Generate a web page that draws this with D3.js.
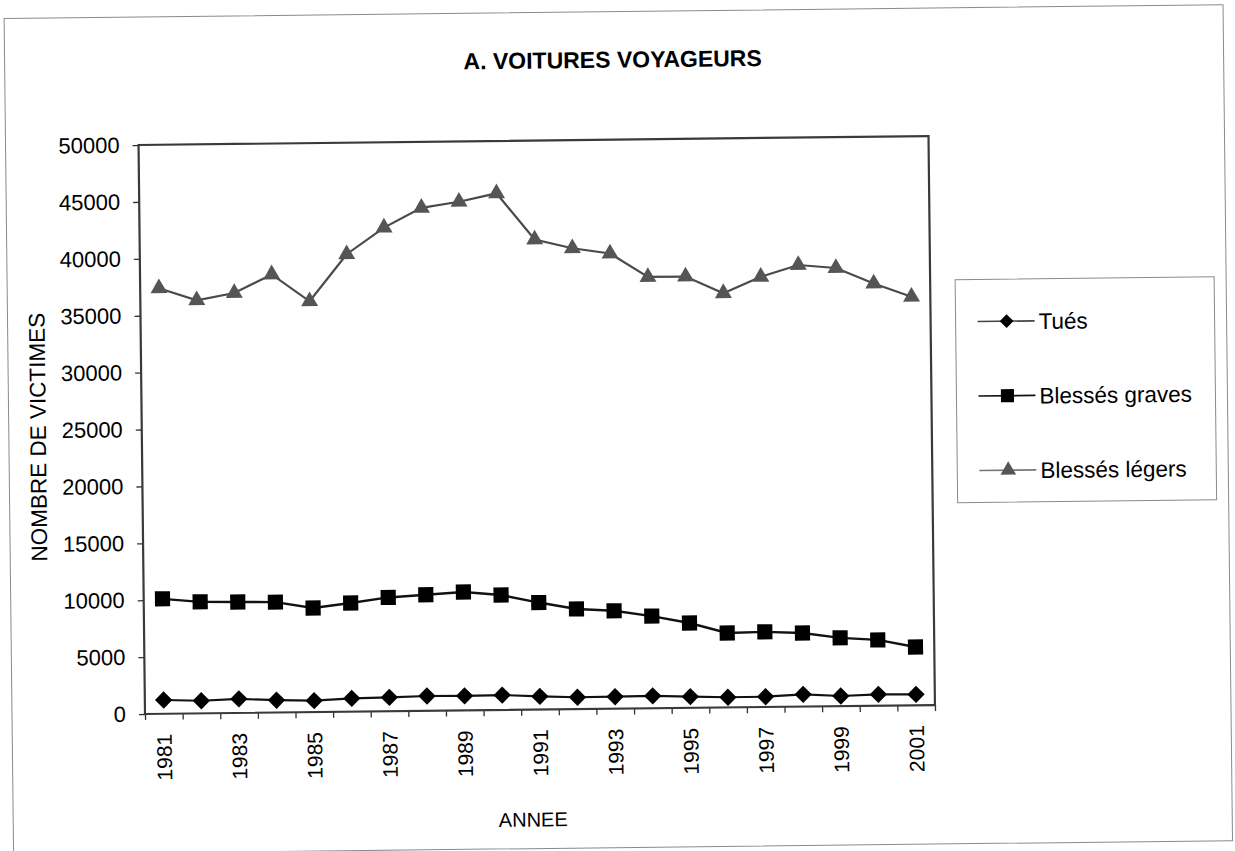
<html>
<head>
  <script src="https://d3js.org/d3.v7.min.js" charset="utf-8"></script>
  <title>A. Voitures voyageurs</title>
  <style>
  body { margin: 0; background: #fff; }
  svg { background-color: #fff; font-family: "Liberation Sans", Arial, sans-serif; }
  </style>
</head>
<body>
  <div id="chart"></div>
  <script>

  // data
  var years = d3.range(1981, 2002);
  var tues = [1210, 1110, 1230, 1080, 1000, 1170, 1220, 1300, 1270, 1310, 1160,
              1040, 1050, 1080, 980, 890, 900, 1070, 890, 1000, 960];
  var blessesGraves = [10100, 9800, 9750, 9700, 9150, 9550, 10000, 10200, 10400, 10100, 9400,
                       8800, 8600, 8100, 7450, 6540, 6600, 6460, 6000, 5780, 5120];
  var blessesLegers = [37400, 36300, 36900, 38500, 36100, 40200, 42500, 44200, 44700, 45400, 41300,
                       40500, 40000, 37900, 37900, 36400, 37800, 38800, 38500, 37100, 35900];
  var yTicks = d3.range(0, 50001, 5000);
  var seriesNames = ["Tués", "Blessés graves", "Blessés légers"];

  var width = 1235, height = 851;
  var plot = { left: 145, right: 935, top: 145, bottom: 714 };

  var svg = d3.select("#chart").append("svg")
    .attr("width", width).attr("height", height);

  // the scan is tilted a little, so is everything here
  var g = svg.append("g").attr("transform", "rotate(-0.65," + plot.left + "," + plot.bottom + ")");

  // outer frame of the chart
  g.append("rect")
    .attr("x", 12).attr("y", 17).attr("width", 1219).attr("height", 836)
    .attr("fill", "none").attr("stroke", "#8a8a8a").attr("stroke-width", 1);

  var x = d3.scaleBand().domain(years).range([plot.left, plot.right]).padding(0);
  var xEdge = d3.scaleLinear().domain([0, years.length]).range([plot.left, plot.right]);
  var y = d3.scaleLinear().domain([0, 50000]).range([plot.bottom, plot.top]);

  // title
  g.append("text")
    .attr("x", 620).attr("y", 73)
    .attr("text-anchor", "middle")
    .attr("font-size", 23).attr("font-weight", "bold")
    .text("A. VOITURES VOYAGEURS");

  // y axis
  var yAxis = g.append("g")
    .attr("transform", "translate(" + plot.left + ",0)")
    .call(d3.axisLeft(y).tickValues(yTicks).tickSize(6).tickPadding(13).tickFormat(d3.format("d")));
  yAxis.select(".domain").remove();
  yAxis.selectAll("line").attr("stroke", "#333").attr("stroke-width", 1.3);
  yAxis.selectAll("text").attr("font-size", 22).attr("fill", "#000")
    .attr("font-family", "Liberation Sans, Arial, sans-serif");

  // x axis: tick marks between categories, labels every other year
  var xTickAxis = g.append("g")
    .attr("transform", "translate(0," + plot.bottom + ")")
    .call(d3.axisBottom(xEdge).tickValues(d3.range(0, years.length + 1)).tickSize(6).tickFormat(""));
  xTickAxis.select(".domain").remove();
  xTickAxis.selectAll("line").attr("stroke", "#333").attr("stroke-width", 1.3);

  var xAxis = g.append("g")
    .attr("transform", "translate(0," + plot.bottom + ")")
    .call(d3.axisBottom(x).tickSize(0).tickFormat(function(d) { return (d - 1981) % 2 === 0 ? d : ""; }));
  xAxis.select(".domain").remove();
  xAxis.selectAll("text")
    .attr("transform", "rotate(-90)")
    .attr("x", -20).attr("y", 0).attr("dy", "0.36em")
    .attr("text-anchor", "end")
    .attr("font-size", 21).attr("fill", "#000")
    .attr("font-family", "Liberation Sans, Arial, sans-serif");

  // axis titles
  g.append("text")
    .attr("transform", "translate(49,436) rotate(-90)")
    .attr("text-anchor", "middle")
    .attr("font-size", 22.5)
    .text("NOMBRE DE VICTIMES");

  g.append("text")
    .attr("x", 532).attr("y", 831)
    .attr("text-anchor", "middle")
    .attr("font-size", 20)
    .text("ANNEE");

  // plot frame
  g.append("rect")
    .attr("x", plot.left).attr("y", plot.top)
    .attr("width", plot.right - plot.left).attr("height", plot.bottom - plot.top)
    .attr("fill", "none").attr("stroke", "#3a3a3a").attr("stroke-width", 2.2);

  var series = [
    { name: seriesNames[0], values: tues, line: "#111", width: 2.2, fill: "#000",
      symbol: d3.symbolSquare, size: 150, rot: 45, legendSize: 95 },
    { name: seriesNames[1], values: blessesGraves, line: "#111", width: 2.4, fill: "#000",
      symbol: d3.symbolSquare, size: 230, rot: 0, legendSize: 170 },
    { name: seriesNames[2], values: blessesLegers, line: "#4a4a4a", width: 2.2, fill: "#555",
      symbol: d3.symbolTriangle, size: 125, rot: 0, legendSize: 105 }
  ];

  var line = d3.line()
    .x(function(d, i) { return x(years[i]) + x.bandwidth() / 2; })
    .y(function(d) { return y(d); });

  series.forEach(function(s) {
    g.append("path")
      .datum(s.values)
      .attr("d", line)
      .attr("fill", "none")
      .attr("stroke", s.line)
      .attr("stroke-width", s.width);

    g.selectAll(null).data(s.values).enter()
      .append("path")
      .attr("d", d3.symbol().type(s.symbol).size(s.size))
      .attr("transform", function(d, i) {
        return "translate(" + (x(years[i]) + x.bandwidth() / 2) + "," + y(d) + ") rotate(" + s.rot + ")";
      })
      .attr("fill", s.fill)
      .attr("stroke", "none");
  });

  // legend
  var legend = g.append("g").attr("transform", "translate(960,289)");
  legend.append("rect")
    .attr("width", 259).attr("height", 223)
    .attr("fill", "#fff").attr("stroke", "#8a8a8a").attr("stroke-width", 1);

  var rows = legend.selectAll(".row").data(series).enter()
    .append("g")
    .attr("class", "row")
    .attr("transform", function(d, i) { return "translate(0," + (42 + i * 74.5) + ")"; });

  rows.append("line")
    .attr("x1", 22).attr("x2", 79)
    .attr("stroke", function(d, i) { return i === 2 ? "#777" : (i === 0 ? "#444" : "#111"); })
    .attr("stroke-width", 1.6);

  rows.append("path")
    .attr("d", function(d) { return d3.symbol().type(d.symbol).size(d.legendSize)(); })
    .attr("transform", function(d) { return "translate(51,0) rotate(" + d.rot + ")"; })
    .attr("fill", function(d) { return d.fill; });

  rows.append("text")
    .attr("x", 83).attr("y", 0).attr("dy", "0.36em")
    .attr("font-size", 22.5)
    .text(function(d) { return d.name; });

  </script>
</body>
</html>
